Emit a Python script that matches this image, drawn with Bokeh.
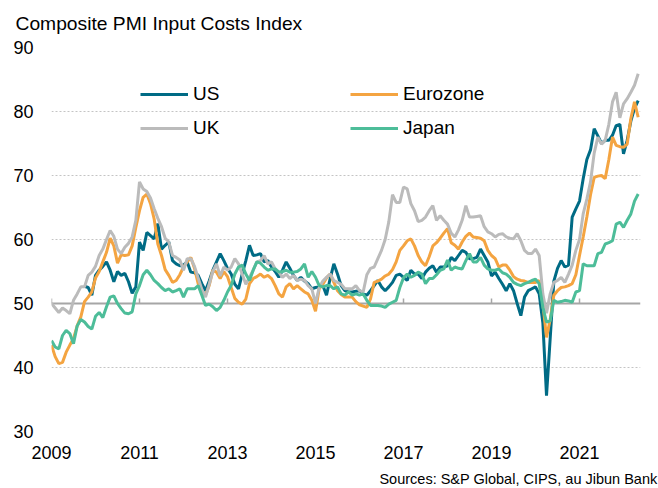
from bokeh.plotting import figure
from bokeh.models import Range1d, FixedTicker, Span, Legend, LegendItem, Title
from bokeh.embed import file_html
from bokeh.resources import INLINE

NA = float("nan")
start_year = 2009
tick_years = [2009, 2011, 2013, 2015, 2017, 2019, 2021]
tick_labels = ["2009", "2011", "2013", "2015", "2017", "2019", "2021"]
y_ticks = [30, 40, 50, 60, 70, 80, 90]
grid_levels = [30, 40, 60, 70, 80, 90]
baseline_level = 50

title_text = "Composite PMI Input Costs Index"
source_text = "Sources: S&P Global, CIPS, au Jibun Bank"

# Monthly values, Jan 2009 - May 2022
us = [NA, NA, NA, NA, NA, NA, NA, NA, NA, 52.7, 52.5, 51.3,
      54.4, 55.2, 55.8, 56.5, 55.2, 53.4, 55.0, 54.4, 54.7, 53.4, 51.6, 52.6,
      59.6, 58.3, 61.1, 60.6, 60.1, 62.5, 58.5, 59.1, 59.6, 56.7, 56.2, 55.9,
      56.0, 56.5, 54.9, 54.8, 54.4, 53.1, 52.0, 53.5, 55.2, 56.5, 57.8, 56.7,
      55.5, 54.6, 53.0, 52.3, 54.6, 56.7, 59.1, 57.5, 57.6, 57.8, 56.5, 56.7,
      55.7, 55.0, 54.1, 55.2, 56.5, 55.5, 54.4, 53.6, 54.1, 53.5, 53.1, 52.3,
      52.5, 52.6, 52.8, 51.3, 53.9, 56.2, 54.6, 52.8, 52.0, 51.8, 51.8, 51.9,
      52.0, 51.5, 51.3, 52.0, 52.8, 53.6, 52.6, 52.0, 52.6, 53.3, 54.4, 54.6,
      54.1, 53.6, 55.2, 54.6, 54.6, 53.9, 54.9, 55.5, 55.9, 54.9, 55.7, 55.7,
      55.9, 57.2, 56.7, 57.5, 58.3, 58.0, 57.0, 57.0, 57.2, 58.5, 57.5, 56.5,
      54.3, 54.9, 53.9, 53.0, 52.0, 53.1, 52.0, 50.0, 48.1, 51.0, 52.0, 52.3,
      52.6, 51.5, 47.0, 35.6, 44.5, 53.5, 55.5, 56.7, 55.7, 56.0, 63.5, 64.8,
      66.0, 69.5, 72.5, 74.0, 77.3, 76.2, 75.0, 75.5, 75.5, 76.3, 77.8, 78.0,
      73.4, 75.5, 78.5, 80.5, 81.7]

eurozone = [43.5, 41.7, 40.6, 40.8, 42.4, 43.5, 44.5, 46.5, 47.9, 50.3, 51.0, 51.8,
            54.0, 55.0, 56.5, 58.0, 60.2, 59.0, 56.3, 57.6, 57.5, 57.6, 59.0, 61.9,
            64.5, 66.6, 67.1, 65.6, 63.2, 59.3, 57.5, 55.3, 54.4, 53.3, 53.6, 54.5,
            55.7, 56.5, 57.2, 55.5, 53.1, 51.5, 51.3, 52.8, 55.2, 54.9, 53.9, 55.0,
            54.2, 52.5, 50.8, 50.2, 49.9, 50.7, 53.1, 53.9, 54.2, 54.6, 54.1, 54.4,
            53.9, 52.8, 51.5, 51.0, 52.6, 53.1, 52.3, 52.8, 52.3, 51.8, 51.5, 50.5,
            48.8, 52.3, 53.0, 54.0, 54.6, 53.3, 52.0, 51.4, 51.0, 51.0, 51.0, 50.3,
            49.8, 49.6, 49.4, 50.7, 53.3, 53.5, 53.8, 54.3, 54.6, 55.3, 56.5, 58.3,
            59.0, 59.8, 60.1, 59.0, 57.5, 56.5, 55.9, 57.3, 59.0, 59.5, 60.2, 61.0,
            61.7, 59.5, 59.1, 58.5, 59.6, 60.5, 61.0, 60.4, 60.3, 60.2, 59.8, 58.3,
            57.5, 57.0, 55.7, 56.0, 56.0, 55.2, 54.2, 53.8, 53.6, 53.5, 53.3, 53.3,
            53.3, 53.6, 50.0, 44.7, 47.5, 51.3, 52.0, 52.5, 52.6, 52.8, 53.1, 54.5,
            57.5, 60.4, 63.5, 67.0, 69.7, 69.9, 70.0, 69.5, 72.5, 76.0, 74.7, 74.5,
            74.4, 74.9, 78.9, 81.5, 79.1]

uk = [50.0, 49.3, 48.6, 49.3, 48.9, 48.4, 50.5, 51.5, 52.6, 52.6, 54.4, 54.9,
      55.8, 57.5, 58.5, 60.0, 61.4, 60.5, 58.5, 57.8, 58.8, 59.4, 60.4, 63.0,
      69.0, 67.9, 67.5, 66.5, 64.8, 63.3, 62.0, 60.2, 59.6, 57.5, 57.2, 56.8,
      55.2, 57.0, 57.0, 55.8, 54.0, 52.2, 51.0, 53.0, 55.0, 56.2, 54.3, 55.7,
      55.2, 55.7, 57.0, 56.2, 54.6, 53.0, 54.1, 55.2, 56.5, 56.7, 57.5, 56.2,
      56.5, 55.4, 54.9, 54.1, 54.6, 53.9, 54.4, 53.6, 53.8, 53.6, 52.8, 52.3,
      50.0, 52.5, 53.5, 54.1, 54.6, 53.6, 53.3, 53.0, 52.3, 52.3, 52.3, 52.8,
      52.0, 51.8, 54.5, 55.5, 55.7, 57.0, 58.3, 60.0, 62.8, 67.0, 65.8, 65.8,
      68.2, 67.9, 65.6, 64.5, 62.8, 63.0, 63.5, 64.5, 65.3, 63.0, 63.7, 63.0,
      62.4, 61.0, 60.4, 61.5, 63.0, 65.3, 63.5, 63.5, 63.6, 63.7, 62.0, 61.2,
      60.9, 60.4, 60.8, 60.9, 60.4, 60.2, 60.1, 60.9, 59.8, 58.3, 57.8, 57.8,
      58.5, 57.5, 51.5, 48.5, 51.5, 53.3, 53.6, 54.1, 53.3, 54.6, 56.0, 58.3,
      60.0, 64.0, 66.3, 69.0, 73.5, 76.0, 74.9, 75.5, 78.0, 81.5, 83.0, 79.0,
      81.2, 82.0, 83.0, 84.1, 85.9]

japan = [44.2, 43.2, 42.9, 45.0, 45.8, 45.3, 43.7, 46.5, 47.5, 47.1, 46.4, 46.0,
         48.0, 48.6, 47.8, 49.5, 51.0, 51.2, 50.0, 49.2, 48.5, 48.4, 48.7, 51.5,
         52.8, 54.5, 55.2, 54.5, 53.6, 53.1, 52.5, 52.0, 52.3, 51.8, 52.0, 52.3,
         51.0, 52.3, 52.3, 52.3, 52.8, 51.3, 49.7, 49.9, 49.5, 48.9, 49.4, 50.5,
         51.8, 52.8, 54.6, 55.7, 56.0, 54.6, 53.6, 55.2, 56.5, 56.3, 55.7, 55.2,
         55.4, 55.4, 54.9, 55.0, 55.2, 54.9, 54.9, 55.0, 55.4, 56.2, 54.1, 55.0,
         54.1, 52.8, 52.6, 52.8, 52.8, 52.3, 52.6, 51.5, 51.3, 51.8, 51.3, 51.5,
         51.3, 51.5, 50.5, 49.7, 49.7, 49.7, 49.6, 49.4, 49.9, 50.2, 50.5, 52.5,
         54.0, 54.6, 54.1, 54.4, 54.9, 54.6, 53.1, 53.9, 53.9, 54.5, 55.2, 55.4,
         56.8, 55.2, 55.7, 55.5, 55.4, 56.7, 57.8, 56.5, 56.5, 57.2, 56.0, 55.4,
         55.2, 55.2, 55.4, 54.8, 54.6, 54.1, 53.3, 53.0, 52.8, 53.1, 53.3, 53.6,
         53.8, 53.1, 49.4, 47.1, 47.3, 50.5, 50.2, 50.3, 50.5, 50.4, 50.2, 51.8,
         52.0, 56.2, 55.9, 55.9, 55.9, 57.8, 58.0, 59.3, 59.5, 59.8, 62.4, 62.7,
         61.9, 63.0, 64.0, 66.0, 67.1]

n = len(uk)
x = [start_year + i / 12 for i in range(n)]

FONT = "Liberation Sans"
C_US = "#006B85"
C_EZ = "#F4A441"
C_UK = "#BBBBBB"
C_JP = "#4DBD99"

p = figure(width=658, height=488, output_backend="svg", toolbar_location=None,
           x_range=Range1d(2009.0, 2022.386), y_range=Range1d(30, 90),
           min_border_left=51, min_border_right=18, min_border_top=47,
           min_border_bottom=57)
p.outline_line_color = None
p.background_fill_color = "white"
p.border_fill_color = "white"

p.xaxis.ticker = FixedTicker(ticks=tick_years)
p.xaxis.major_label_overrides = {t: l for t, l in zip(tick_years, tick_labels)}
p.yaxis.ticker = FixedTicker(ticks=y_ticks)
for ax in (p.xaxis, p.yaxis):
    ax.axis_line_color = None
    ax.major_tick_line_color = None
    ax.minor_tick_line_color = None
    ax.major_tick_out = 0
    ax.major_tick_in = 0
    ax.major_label_text_font = FONT
    ax.major_label_text_font_size = "18px"
    ax.major_label_text_color = "#000000"
p.xaxis.major_label_standoff = 14
p.yaxis.major_label_standoff = 18

p.xgrid.grid_line_color = None
p.ygrid.ticker = FixedTicker(ticks=grid_levels)
p.ygrid.grid_line_color = "#c4c4c4"
p.ygrid.grid_line_dash = "2 2"
p.ygrid.grid_line_width = 1

p.add_layout(Span(location=baseline_level, dimension="width", line_color="#a6a6a6",
                  line_width=2, level="underlay"))
p.segment(x0=tick_years, y0=[baseline_level] * len(tick_years), x1=tick_years,
          y1=[baseline_level + 0.8] * len(tick_years), line_color="#a6a6a6", line_width=1.5)

r_us = p.line(x, us, line_color=C_US, line_width=3)
r_ez = p.line(x, eurozone, line_color=C_EZ, line_width=3)
r_uk = p.line(x, uk, line_color=C_UK, line_width=3)
r_jp = p.line(x, japan, line_color=C_JP, line_width=3)

leg1 = Legend(items=[LegendItem(label="US", renderers=[r_us]),
                     LegendItem(label="UK", renderers=[r_uk])], location=(89, 292))
leg2 = Legend(items=[LegendItem(label="Eurozone", renderers=[r_ez]),
                     LegendItem(label="Japan", renderers=[r_jp])], location=(299, 292))
for leg in (leg1, leg2):
    leg.orientation = "vertical"
    leg.border_line_color = None
    leg.background_fill_alpha = 0
    leg.padding = 0
    leg.margin = 0
    leg.spacing = 12
    leg.glyph_width = 48
    leg.glyph_height = 22
    leg.label_height = 22
    leg.label_standoff = 5
    leg.label_text_font = FONT
    leg.label_text_font_size = "19px"
    leg.label_text_color = "#000000"
    p.add_layout(leg)

# spacer next to the frame, then the title above it
p.add_layout(Title(text=" ", standoff=11, text_font_size="1px"), "above")
p.add_layout(Title(text=title_text, align="left", offset=-36, standoff=0,
                   vertical_align="bottom", text_font=FONT, text_font_size="19.25px",
                   text_font_style="normal", text_color="#000000"), "above")

# spacer under the x axis, then the source note
p.add_layout(Title(text=" ", standoff=6, text_font_size="1px"), "below")
p.add_layout(Title(text=source_text, align="right", offset=-17, standoff=0,
                   vertical_align="top", text_font=FONT, text_font_size="14.5px",
                   text_font_style="normal", text_color="#000000"), "below")

open("out.html", "w").write(file_html(p, INLINE))
